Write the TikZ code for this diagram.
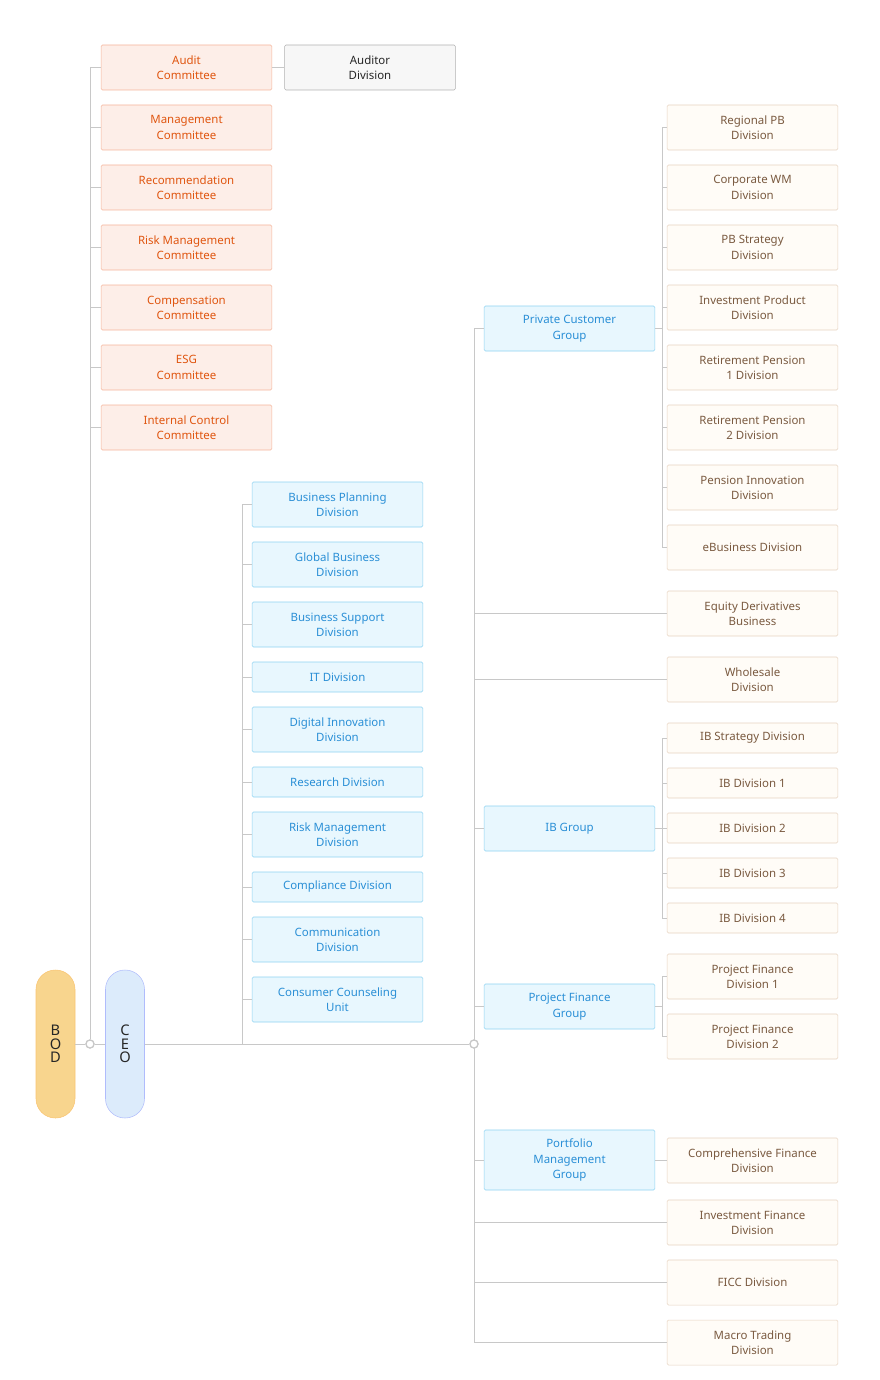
\documentclass[tikz,border=0pt]{standalone}
\usepackage{fontspec}
\setmainfont{Noto Sans}
\usetikzlibrary{positioning, calc}
\definecolor{lineg}{HTML}{C8C8C8}
\definecolor{comfill}{HTML}{FDEEE8}
\definecolor{comdraw}{HTML}{F5B59B}
\definecolor{comtext}{HTML}{E0550F}
\definecolor{divfill}{HTML}{E8F7FE}
\definecolor{divdraw}{HTML}{8ED3F2}
\definecolor{divtext}{HTML}{2A8FD6}
\definecolor{subfill}{HTML}{FFFCF7}
\definecolor{subdraw}{HTML}{E6D3C0}
\definecolor{subtext}{HTML}{7A5A40}
\definecolor{bodfill}{HTML}{F8D58E}
\definecolor{ceofill}{HTML}{DCEBFB}

\begin{document}
\begin{tikzpicture}[
    x=0.75pt, y=-0.75pt,
    box/.style={rectangle, draw, rounded corners=1pt, minimum width=128pt, align=center, inner sep=1pt, font=\fontsize{8.6}{11.5}\selectfont},
    tall/.style={minimum height=33.75pt},
    short/.style={minimum height=22.5pt},
    com/.style={box, tall, fill=comfill, draw=comdraw, text=comtext},
    aud/.style={box, tall, fill=black!3, draw=black!30, text=black!85},
    dv/.style={box, fill=divfill, draw=divdraw, text=divtext},
    sub/.style={box, fill=subfill, draw=subdraw, text=subtext},
    pill/.style={rectangle, rounded corners=14.5pt, minimum width=29.25pt, minimum height=111pt, align=center, font=\bfseries\fontsize{11}{10}\selectfont, text=black!85},
    link/.style={draw=lineg, line width=0.75pt},
    dot/.style={circle, draw=lineg, fill=white, line width=0.9pt, inner sep=0pt, minimum size=6pt}
]
\useasboundingbox (0,0) rectangle (880,1380);

% top and middle
\node[pill, fill=bodfill, draw=bodfill!80!orange] (bod) at (55.5,1044) {B\\O\\D};
\node[pill, fill=ceofill, draw=ceofill!80!blue] (ceo) at (125,1044) {C\\E\\O};
\node[dot] (j1) at (90,1044) {};
\node[dot] (j2) at (474,1044) {};
\coordinate (t1) at (90,67.5);
\coordinate (t2) at (242,504.5);
\coordinate (t3) at (474,328.5);
\coordinate (t4) at (474,1342.5);

% committees
\foreach \n/\y/\t in {c1/67.5/Audit\\Committee, c2/127.5/Management\\Committee,
    c3/187.5/Recommendation\\Committee, c4/247.5/Risk Management\\Committee,
    c5/307.5/Compensation\\Committee, c6/367.5/ESG\\Committee,
    c7/427.5/Internal Control\\Committee}
  \node[com] (\n) at (186.5,\y) {\t};
\node[aud] (aud) at (370,67.5) {Auditor\\Division};

% staff divisions
\foreach \n/\y/\s/\t in {d1/504.5/tall/Business Planning\\Division, d2/564.5/tall/Global Business\\Division,
    d3/624.5/tall/Business Support\\Division, d4/677/short/IT Division,
    d5/729.5/tall/Digital Innovation\\Division, d6/782/short/Research Division,
    d7/834.5/tall/Risk Management\\Division, d8/887/short/Compliance Division,
    d9/939.5/tall/Communication\\Division, d10/999.5/tall/Consumer Counseling\\Unit}
  \node[dv, \s] (\n) at (337.5,\y) {\t};

% groups
\node[dv, tall] (g1) at (569.5,328.5) {Private Customer\\Group};
\node[dv, tall] (g2) at (569.5,828.5) {IB Group};
\node[dv, tall] (g3) at (569.5,1006.5) {Project Finance\\Group};
\node[dv, minimum height=45pt] (g4) at (569.5,1160) {Portfolio\\Management\\Group};

% business divisions
\foreach \n/\y/\s/\t in {p1/127.5/tall/Regional PB\\Division, p2/187.5/tall/Corporate WM\\Division,
    p3/247.5/tall/PB Strategy\\Division, p4/307.5/tall/Investment Product\\Division,
    p5/367.5/tall/Retirement Pension\\1 Division, p6/427.5/tall/Retirement Pension\\2 Division,
    p7/487.5/tall/Pension Innovation\\Division, p8/547.5/tall/eBusiness Division,
    e1/613.5/tall/Equity Derivatives\\Business, e2/679.5/tall/Wholesale\\Division,
    i1/738/short/IB Strategy Division, i2/783/short/IB Division 1,
    i3/828/short/IB Division 2, i4/873/short/IB Division 3, i5/918/short/IB Division 4,
    f1/976.5/tall/Project Finance\\Division 1, f2/1036.5/tall/Project Finance\\Division 2,
    m1/1160.5/tall/Comprehensive Finance\\Division, m2/1222.5/tall/Investment Finance\\Division,
    m3/1282.5/tall/FICC Division, m4/1342.5/tall/Macro Trading\\Division}
  \node[sub, \s] (\n) at (752.5,\y) {\t};

% connectors
\path[link] (bod) -- (j1) -- (ceo) -- (j2);
\path[link] (t1) -- (j1);
\foreach \n in {c1,c2,c3,c4,c5,c6,c7}
  \path[link] (t1) |- (\n.west);
\path[link] (c1) -- (aud);
\path[link] (t2) -- (t2 |- j2);
\foreach \n in {d1,d2,d3,d4,d5,d6,d7,d8,d9,d10}
  \path[link] (t2) |- (\n.west);
\path[link] (t3) -- (t4);
\foreach \n in {g1,g2,g3,g4,e1,e2,m2,m3,m4}
  \path[link] (t3) |- (\n.west);
\coordinate (s1) at (662,127.5);
\path[link] (s1) -- (662,547.5);
\foreach \n in {p1,p2,p3,p4,p5,p6,p7,p8}
  \path[link] (s1) |- (\n.west);
\path[link] (g1.east) -- (g1.east -| s1);
\coordinate (s2) at (662,738);
\path[link] (s2) -- (662,918);
\foreach \n in {i1,i2,i3,i4,i5}
  \path[link] (s2) |- (\n.west);
\path[link] (g2.east) -- (g2.east -| s2);
\coordinate (s3) at (662,976.5);
\path[link] (s3) -- (662,1036.5);
\foreach \n in {f1,f2}
  \path[link] (s3) |- (\n.west);
\path[link] (g3.east) -- (g3.east -| s3);
\path[link] (g4.east) -- (g4.east |- m1) -- (m1.west);
\node[dot] at (j1) {};
\node[dot] at (j2) {};
\end{tikzpicture}
\end{document}
